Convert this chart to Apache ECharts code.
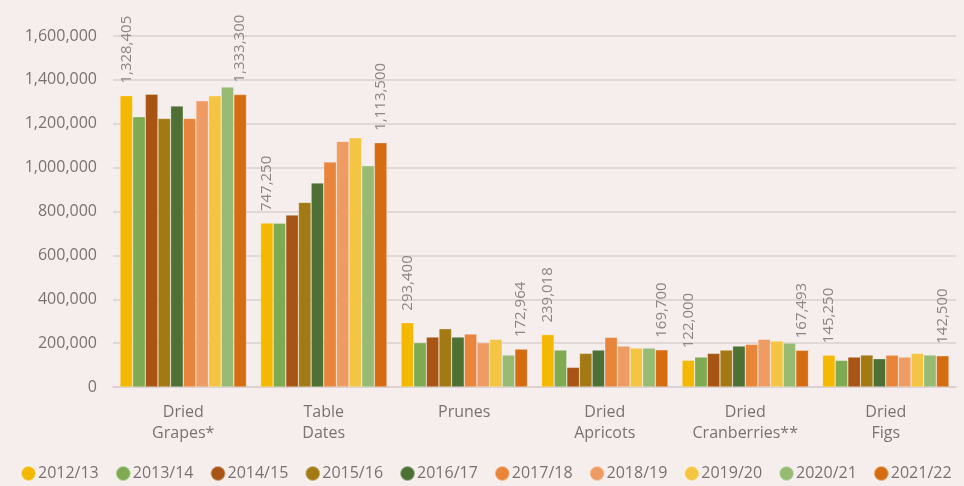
<!DOCTYPE html>
<html>
<head>
<meta charset="utf-8">
<script src="https://cdn.jsdelivr.net/npm/echarts@6/dist/echarts.min.js"></script>
<style>
  html, body { margin: 0; padding: 0; background: #f6eded; }
  #chart { width: 964px; height: 486px; }
</style>
</head>
<body>
<div id="chart"></div>
<script>
// categories and seasons
const categories = ['Dried\nGrapes*', 'Table\nDates', 'Prunes', 'Dried\nApricots', 'Dried\nCranberries**', 'Dried\nFigs']
const seasons = ['2012/13', '2013/14', '2014/15', '2015/16', '2016/17', '2017/18', '2018/19', '2019/20', '2020/21', '2021/22']
const colors = ['#f4b800', '#7eaa52', '#a85415', '#a27913', '#4f7035', '#e9843b', '#ee9c64', '#f4c542', '#98bb74', '#d56c12']

// values per season, in category order
const v2012 = [1328405, 747250, 293400, 239018, 122000, 145250]
const v2013 = [1232000, 747000, 202000, 168600, 136700, 121500]
const v2014 = [1335000, 784000, 227900, 89700, 153500, 136700]
const v2015 = [1224600, 841700, 265900, 153500, 168600, 145900]
const v2016 = [1280800, 929800, 227900, 168600, 186900, 129100]
const v2017 = [1224600, 1025500, 241600, 226400, 194500, 145500]
const v2018 = [1305000, 1119800, 202000, 186900, 217300, 136700]
const v2019 = [1328000, 1136500, 217300, 177800, 209700, 153500]
const v2020 = [1367400, 1008800, 145900, 177800, 200500, 145900]
const v2021 = [1333300, 1113500, 172964, 169700, 167493, 142500]
const values = [v2012, v2013, v2014, v2015, v2016, v2017, v2018, v2019, v2020, v2021]

const chart = echarts.init(document.getElementById('chart'))
const fmt = n => n.toLocaleString('en-US')
const font = '"Open Sans", Lato, sans-serif'

const series = seasons.map((name, i) => {
  const showLabel = i === 0 || i === seasons.length - 1
  return {
    name: name,
    type: 'bar',
    data: values[i],
    barGap: '0%',
    barCategoryGap: '10%',
    itemStyle: {
      color: colors[i],
      borderColor: 'rgba(255,255,255,0.45)',
      borderWidth: 0.6
    },
    label: {
      show: showLabel,
      position: 'top',
      rotate: 90,
      align: 'left',
      verticalAlign: 'middle',
      distance: 12,
      color: '#8c8686',
      fontSize: 15,
      fontFamily: font,
      formatter: p => fmt(p.value)
    }
  }
})

const option = {
  backgroundColor: '#f6eded',
  animation: false,
  color: colors,
  grid: {
    left: 113,
    right: 8,
    top: 36,
    bottom: 99
  },
  legend: {
    data: seasons,
    bottom: -1,
    left: 15,
    icon: 'circle',
    itemWidth: 15,
    itemHeight: 15,
    itemGap: 16,
    textStyle: {
      color: '#7a7272',
      fontSize: 16,
      fontFamily: font,
      padding: [0, 0, 0, -3]
    }
  },
  xAxis: {
    type: 'category',
    data: categories,
    axisLine: { lineStyle: { color: '#d8cfce', width: 1.5 } },
    axisTick: { show: false },
    axisLabel: {
      color: '#7a7272',
      fontSize: 16,
      lineHeight: 21,
      margin: 15,
      fontFamily: font
    }
  },
  yAxis: {
    type: 'value',
    min: 0,
    max: 1600000,
    interval: 200000,
    axisLine: { show: false },
    axisTick: { show: false },
    splitLine: { lineStyle: { color: '#d8cfce', width: 1.5 } },
    axisLabel: {
      color: '#7a7272',
      fontSize: 16,
      margin: 16,
      fontFamily: font,
      formatter: v => fmt(v)
    }
  },
  series: series
}

chart.setOption(option)
</script>
</body>
</html>
